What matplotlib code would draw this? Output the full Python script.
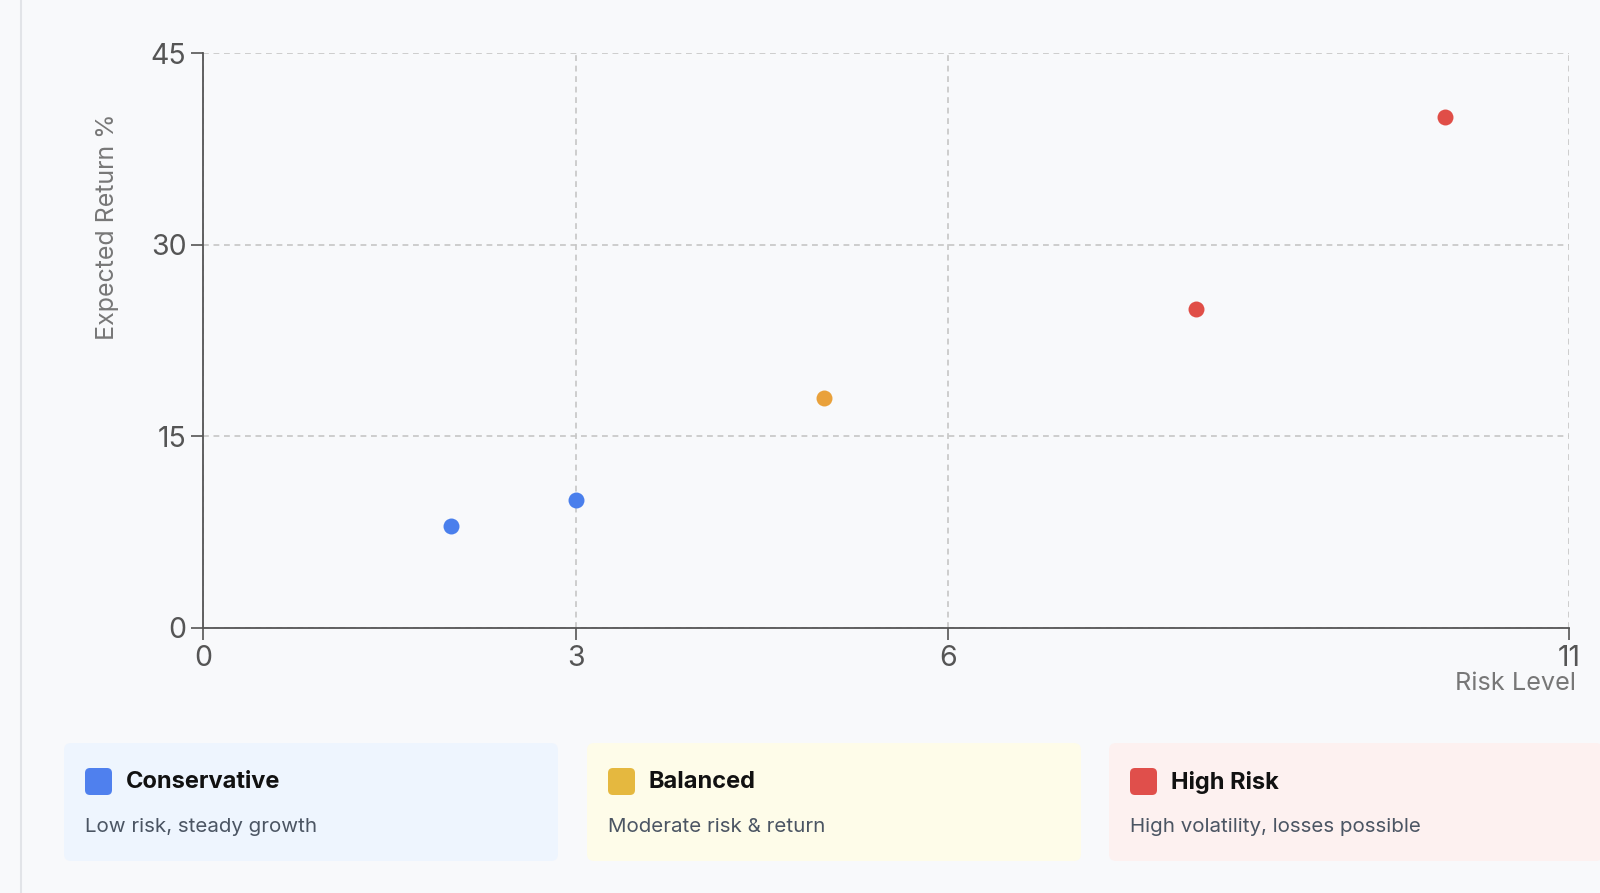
import matplotlib
matplotlib.use("Agg")
import matplotlib.pyplot as plt
from matplotlib.patches import FancyBboxPatch

# ---- data ----
risk = [2, 3, 5, 8, 10]
returns = [8, 10, 18, 25, 40]
point_group = ["Conservative", "Conservative", "Balanced", "High Risk", "High Risk"]
point_colors = {"Conservative": "#4a7fec", "Balanced": "#e9a13b", "High Risk": "#e04e47"}

x_ticks = [0, 3, 6, 11]
y_ticks = [0, 15, 30, 45]

legend_titles = ["Conservative", "Balanced", "High Risk"]
legend_desc = ["Low risk, steady growth", "Moderate risk & return", "High volatility, losses possible"]
legend_swatch = ["#4f80ee", "#e5b83f", "#e04f4b"]
legend_bg = ["#eef5fe", "#fefce9", "#fdf1f0"]

FONT = ["Inter", "DejaVu Sans"]
plt.rcParams["font.family"] = FONT

W, H = 1600, 893
fig = plt.figure(figsize=(W / 100, H / 100), dpi=100)
BG = "#f8f9fb"
fig.patch.set_facecolor(BG)

# overlay in pixel coords for decorations
ov = fig.add_axes([0, 0, 1, 1], zorder=0)
ov.set_xlim(0, W)
ov.set_ylim(H, 0)
ov.axis("off")
ov.plot([20.5, 20.5], [0, H], color="#e2e4e8", lw=1.5)

box_x = [64, 587, 1109]
box_w = 494
for i in range(3):
    bx = box_x[i]
    ov.add_patch(FancyBboxPatch((bx, 743), box_w, 118,
                                boxstyle="round,pad=0,rounding_size=7",
                                facecolor=legend_bg[i], edgecolor="none"))
    ov.add_patch(FancyBboxPatch((bx + 21, 768), 27, 27,
                                boxstyle="round,pad=0,rounding_size=5",
                                facecolor=legend_swatch[i], edgecolor="none"))
    ov.text(bx + 62, 782, legend_titles[i], fontsize=17, fontweight="bold",
            color="#111111", va="center", ha="left")
    ov.text(bx + 21, 827, legend_desc[i], fontsize=14.8, color="#4b5563",
            va="center", ha="left")

# ---- main axes ----
L, R, T, B = 203, 1569, 53, 628
ax = fig.add_axes([L / W, 1 - B / H, (R - L) / W, (B - T) / H], zorder=1)
ax.set_facecolor("none")
for g in legend_titles:
    xs = [x for x, p in zip(risk, point_group) if p == g]
    ys = [y for y, p in zip(returns, point_group) if p == g]
    ax.scatter(xs, ys, s=132, color=point_colors[g], zorder=3, linewidths=0,
               clip_on=False)

ax.set_xlim(0, 11)
ax.set_ylim(0, 45)
ax.set_xticks(x_ticks)
ax.set_yticks(y_ticks)
ax.tick_params(axis="both", labelsize=20.5, labelcolor="#555555", color="#555555",
               length=8.5, width=1.2)
ax.tick_params(axis="x", pad=3.5)
ax.tick_params(axis="y", pad=3.5)
for s in ["top", "right"]:
    ax.spines[s].set_visible(False)
for s in ["left", "bottom"]:
    ax.spines[s].set_color("#555555")
    ax.spines[s].set_linewidth(1.3)
ax.grid(True, linestyle=(0, (3.5, 2.8)), color="#c6c6c6", linewidth=1.2)
ax.set_axisbelow(True)

# axis titles placed in pixel coords of the overlay
ov.text(1576, 683, "Risk Level", fontsize=18.2, color="#777777",
        ha="right", va="center", zorder=5)
ov.text(108, 114, "Expected Return %", fontsize=18, color="#777777",
        rotation=90, rotation_mode="anchor", ha="right", va="center", zorder=5)

fig.savefig("out.png", dpi=100, facecolor=BG)
